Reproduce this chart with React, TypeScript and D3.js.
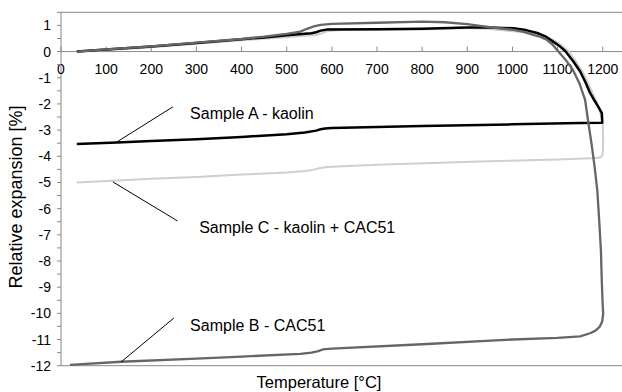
import React from "react";
import * as d3 from "d3";

type P = [number, number];

const xTicks = [0, 100, 200, 300, 400, 500, 600, 700, 800, 900, 1000, 1100, 1200];
const yTicks = [1, 0, -1, -2, -3, -4, -5, -6, -7, -8, -9, -10, -11, -12];

// Sample A - kaolin (black): heating, then cooling
const sampleA: P[] = [
  [35, 0], [100, 0.08], [200, 0.19], [300, 0.33], [400, 0.47], [450, 0.54], [500, 0.62], [540, 0.68],
  [555, 0.7], [565, 0.74], [575, 0.8], [590, 0.84], [700, 0.85], [800, 0.87], [900, 0.92], [950, 0.92],
  [1002, 0.89], [1030, 0.82], [1055, 0.71], [1075, 0.56], [1090, 0.38], [1105, 0.2], [1117, 0.02],
  [1135, -0.38], [1150, -0.76], [1162, -1.18], [1172, -1.58], [1182, -1.88], [1190, -2.1],
  [1198, -2.35], [1199, -2.72], [1150, -2.73], [1000, -2.78], [800, -2.84], [600, -2.92],
  [585, -2.94], [575, -2.97], [565, -3.02], [540, -3.09], [500, -3.16], [400, -3.26], [300, -3.35],
  [200, -3.42], [124, -3.47], [35, -3.53],
];

// Sample C - kaolin + CAC51 (light grey)
const sampleC: P[] = [
  [35, 0], [100, 0.06], [200, 0.16], [300, 0.3], [400, 0.43], [450, 0.49], [500, 0.55], [540, 0.6],
  [565, 0.63], [578, 0.7], [590, 0.78], [620, 0.82], [800, 0.84], [900, 0.9], [950, 0.86], [1000, 0.78],
  [1050, 0.7], [1072, 0.6], [1090, 0.45], [1108, 0.25], [1125, 0.0], [1140, -0.36], [1155, -0.76],
  [1167, -1.18], [1178, -1.6], [1187, -1.95], [1194, -2.3], [1198, -2.55], [1200, -2.75],
  [1201, -3.5], [1200, -3.92], [1196, -4.03], [1188, -4.07], [1100, -4.12], [928, -4.2],
  [700, -4.32], [600, -4.4], [585, -4.42], [572, -4.46], [558, -4.52], [540, -4.56], [500, -4.62],
  [400, -4.7], [300, -4.79], [200, -4.86], [124, -4.93], [35, -5.0],
];

// Sample B - CAC51 (dark grey)
const sampleB: P[] = [
  [35, 0], [100, 0.08], [200, 0.2], [300, 0.34], [400, 0.48], [450, 0.57], [500, 0.68], [530, 0.76],
  [545, 0.87], [560, 0.96], [575, 1.02], [600, 1.06], [700, 1.1], [800, 1.14], [850, 1.12],
  [900, 1.05], [928, 0.98], [965, 0.9], [1002, 0.83], [1025, 0.75], [1046, 0.64], [1062, 0.56],
  [1076, 0.45], [1088, 0.28], [1099, 0.06], [1117, -0.3], [1134, -0.7], [1148, -1.2], [1161, -1.85],
  [1168, -2.7], [1175, -3.5], [1182, -4.4], [1188, -5.3], [1192, -6.4], [1196, -7.6], [1198, -8.8],
  [1200, -9.7], [1201, -10.0], [1199, -10.3], [1193, -10.52], [1184, -10.66], [1172, -10.76],
  [1150, -10.88], [1100, -10.94], [1000, -11.0], [800, -11.18], [600, -11.35], [580, -11.38],
  [570, -11.44], [555, -11.5], [530, -11.55], [400, -11.65], [300, -11.73], [133, -11.85], [20, -11.97],
];

const labels = [
  { text: "Sample A - kaolin", at: [286, -2.37] as P, from: [248, -2.11] as P, to: [124, -3.45] as P },
  { text: "Sample C - kaolin + CAC51", at: [306, -6.7] as P, from: [258, -6.47] as P, to: [115, -4.98] as P },
  { text: "Sample B - CAC51", at: [286, -10.44] as P, from: [250, -10.18] as P, to: [133, -11.86] as P },
];

const W = 622, H = 392;

export default function App() {
  const x = d3.scaleLinear().domain([0, 1250]).range([61, 625.3]);
  const y = d3.scaleLinear().domain([-12, 1.5]).range([365.7, 12.3]);
  const line = d3
    .line<P>()
    .x((d) => x(d[0]))
    .y((d) => y(d[1]))
    .curve(d3.curveLinear);
  const minor = d3.range(-12, 1.51, 0.5);
  const axisColor = "#888";
  const font = "Arial, 'Liberation Sans', sans-serif";
  return (
    <svg width={W} height={H} style={{ position: "absolute", left: 0, top: 0, background: "#fff" }} fontFamily={font}>
      {/* frame */}
      <line x1={x(0)} x2={W} y1={y(1.5)} y2={y(1.5)} stroke={axisColor} strokeWidth={1} />
      <line x1={x(0)} x2={W} y1={y(-12)} y2={y(-12)} stroke={axisColor} strokeWidth={1} />
      <line x1={x(0)} x2={x(0)} y1={y(1.5)} y2={y(-12)} stroke={axisColor} strokeWidth={1} />
      {/* x axis at 0 */}
      <line x1={x(0)} x2={W} y1={y(0)} y2={y(0)} stroke={axisColor} strokeWidth={1} />
      {xTicks.map((t) => (
        <g key={t}>
          <line x1={x(t)} x2={x(t)} y1={y(0)} y2={y(0) - 5} stroke={axisColor} />
          <text x={x(t)} y={74} fontSize={14} textAnchor="middle" fill="#000">{t}</text>
        </g>
      ))}
      {minor.map((v) => (
        <line key={v} x1={x(0) - 4} x2={x(0)} y1={y(v)} y2={y(v)} stroke={axisColor} />
      ))}
      {yTicks.map((v) => (
        <text key={v} x={51} y={y(v)} dy="0.36em" fontSize={14} textAnchor="end" fill="#000">{v}</text>
      ))}
      <text x={319} y={388} fontSize={16.5} textAnchor="middle" fill="#000">Temperature [°C]</text>
      <text transform={`translate(22,197) rotate(-90)`} fontSize={18} textAnchor="middle" fill="#000">Relative expansion [%]</text>
      {/* curves */}
      <path d={line(sampleC) || ""} fill="none" stroke="#cfcfcf" strokeWidth={2} strokeLinejoin="round" />
      <path d={line(sampleA) || ""} fill="none" stroke="#000" strokeWidth={2.5} strokeLinejoin="round" />
      <path d={line(sampleB) || ""} fill="none" stroke="#666" strokeWidth={2.3} strokeLinejoin="round" />
      {/* labels */}
      {labels.map((l) => (
        <g key={l.text}>
          <line x1={x(l.from[0])} y1={y(l.from[1])} x2={x(l.to[0])} y2={y(l.to[1])} stroke="#000" strokeWidth={1} />
          <text x={x(l.at[0])} y={y(l.at[1])} dy="0.36em" fontSize={16} fill="#000">{l.text}</text>
        </g>
      ))}
    </svg>
  );
}
